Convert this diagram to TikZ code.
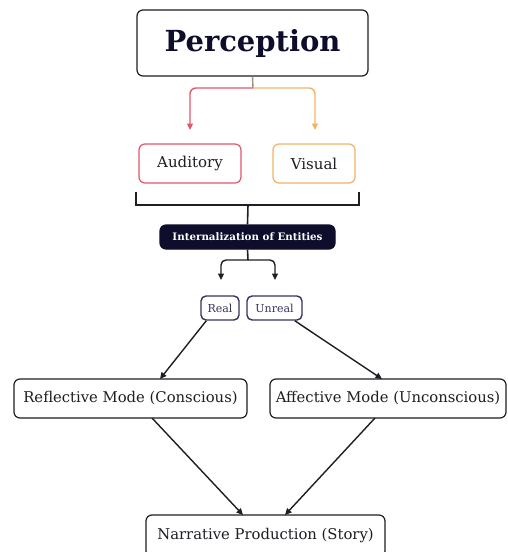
\documentclass[tikz,border=0pt]{standalone}
\usepackage{fontspec}
\setmainfont{DejaVu Serif}
\usetikzlibrary{arrows.meta}
\definecolor{ink}{HTML}{1E1E24}
\definecolor{navy}{HTML}{0E0E2C}
\definecolor{redc}{HTML}{E2566A}
\definecolor{orac}{HTML}{F2B266}
\definecolor{indi}{HTML}{33335E}
\tikzset{
  x=1pt,y=-1pt,
  box/.style={draw=ink,line width=1.2pt,rounded corners=6pt,fill=white,inner sep=0pt,text=ink},
  tip/.style={-{Triangle[length=6.5pt,width=6pt]}},
  conn/.style={draw=ink,line width=1.4pt,tip},
  midtext/.style={font=\fontsize{14.8}{17}\selectfont},
}
\begin{document}
\begin{tikzpicture}
\useasboundingbox (0,0) rectangle (508,552);
% Perception
\node[box,minimum width=231pt,minimum height=66pt,font=\bfseries\fontsize{29}{33}\selectfont,text=navy] (perc) at (252.5,43) {Perception};
\node[box,draw=redc,minimum width=102pt,minimum height=39pt,font=\fontsize{15}{18}\selectfont] (aud) at (190,163.5) {Auditory};
\node[box,draw=orac,minimum width=82pt,minimum height=39pt,font=\fontsize{15}{18}\selectfont] (vis) at (314,163.5) {Visual};
\coordinate (split) at (253,88);
\draw[line width=1.4pt,draw=gray!70!orac] (perc.south) -- (split);
\draw[line width=1.4pt,draw=redc,rounded corners=6pt,tip] (split) -| (190,130);
\draw[line width=1.4pt,draw=orac,rounded corners=6pt,tip] (split) -| (315,130);
% bracket
\coordinate (bl) at (136,192);
\coordinate (br) at (359,192);
\coordinate (bm) at (248,205);
\draw[ink,line width=1.6pt] (bl) -- (136,205) -- (359,205) -- (br);
\node[box,fill=navy,draw=navy,text=white,minimum width=175pt,minimum height=24pt,font=\bfseries\fontsize{10.3}{12}\selectfont] (int) at (247.5,237) {Internalization of Entities};
\draw[ink,line width=1.6pt] (bm) -- (int.north);
% split to real/unreal
\coordinate (s2) at (248,260);
\draw[ink,line width=1.6pt] (int.south) -- (s2);
\draw[conn,rounded corners=5pt] (s2) -| (221,280);
\draw[conn,rounded corners=5pt] (s2) -| (275,280);
\node[box,draw=indi,line width=1.4pt,rounded corners=5pt,minimum width=38pt,minimum height=24pt,text=indi,font=\fontsize{11}{13}\selectfont] (real) at (220,308) {Real};
\node[box,draw=indi,line width=1.4pt,rounded corners=5pt,minimum width=55pt,minimum height=24pt,text=indi,font=\fontsize{11}{13}\selectfont] (unreal) at (274.5,308) {Unreal};
% modes
\node[box,minimum width=233pt,minimum height=39pt,midtext] (refl) at (130.5,398.5) {Reflective Mode (Conscious)};
\node[box,minimum width=236pt,minimum height=39pt,midtext] (aff) at (388,398.5) {Affective Mode (Unconscious)};
\node[box,minimum width=239pt,minimum height=42pt,midtext] (narr) at (265.5,536) {Narrative Production (Story)};
\draw[conn] (real.south west) ++(6,0) -- (160,379);
\draw[conn] (unreal.south east) ++(-8,0) -- (382,379);
\draw[conn] (152,418) -- (243,515);
\draw[conn] (375,418) -- (285,515);
\end{tikzpicture}
\end{document}
